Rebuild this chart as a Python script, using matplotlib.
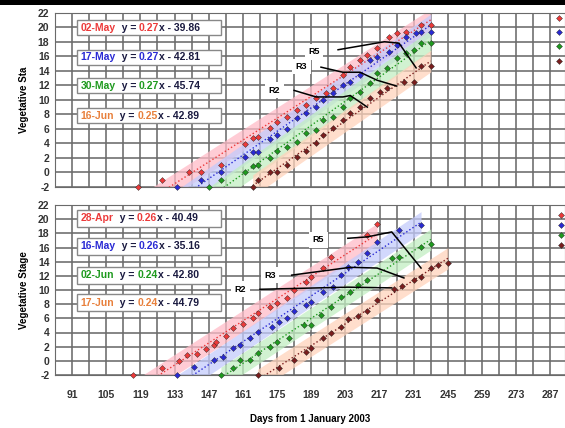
import numpy as np
import matplotlib
matplotlib.use("Agg")
import matplotlib.pyplot as plt
import matplotlib.patches as patches

plt.rcParams['font.family'] = ['Liberation Sans', 'DejaVu Sans']

# ---- data (day of year, vegetative stage) ----
top_red_day = [118, 128, 139, 144, 152, 162, 165, 167, 172, 175, 179, 183, 187, 191, 195, 198, 202, 205, 209, 212, 216, 221, 224, 228, 234, 238]
top_red_val = [-2, -1, 0, 0, 1, 3.9, 4.7, 4.9, 6.1, 6.9, 7.6, 8.6, 9.3, 10.2, 11, 11.7, 13.4, 14.5, 15.5, 16.2, 17.1, 18.7, 19.2, 19.4, 20.3, 20.3]
top_blue_day = [134, 144, 152, 162, 165, 167, 172, 175, 179, 183, 187, 191, 194, 198, 202, 205, 209, 213, 216, 221, 224, 228, 232, 234, 238]
top_blue_val = [-2, -1, 0, 2.1, 2.8, 2.8, 4.6, 5.2, 6, 7.5, 8.2, 9, 10, 10.9, 12, 12.4, 13.4, 15.5, 15.9, 16.6, 17.6, 18.7, 19.2, 19.3, 19.3]
top_green_day = [147, 152, 162, 165, 167, 172, 175, 179, 183, 187, 191, 194, 198, 202, 205, 209, 213, 216, 220, 224, 228, 231, 234, 238]
top_green_val = [-2, -1, 0, 0.9, 1, 2, 3, 3.5, 4.2, 5.4, 5.8, 7.2, 7.6, 9, 10.2, 11.1, 12.3, 13.7, 14.4, 15.7, 16.4, 16.9, 17.8, 17.8]
top_brown_day = [165, 167, 172, 175, 179, 183, 187, 191, 194, 198, 202, 205, 209, 213, 217, 220, 227, 231, 234, 238]
top_brown_val = [-2, -1, 0, 0, 1, 2.1, 3, 4, 5.1, 6.1, 7.2, 8.2, 9, 10.2, 11.1, 11.7, 12.5, 12.5, 14.6, 14.6]

bot_red_day = [116, 128, 135, 138, 142, 146, 149, 150, 154, 157, 161, 165, 167, 172, 175, 179, 182, 187, 189, 194, 197, 212, 216]
bot_red_val = [-2, -1, 0, 0.8, 1, 1.7, 2.2, 2.7, 3.5, 4.6, 5.2, 6, 6.7, 7.6, 8.2, 8.9, 10, 11.1, 11.8, 13.1, 14.7, 17.7, 19.3]
bot_blue_day = [134, 141, 149, 153, 157, 160, 164, 167, 173, 176, 179, 182, 187, 189, 194, 198, 201, 204, 208, 212, 216, 225, 234]
bot_blue_val = [-2, -0.9, 0.1, 0.5, 1.8, 2.2, 3.2, 4.1, 4.8, 5.5, 6, 7, 7.9, 8.3, 9.7, 10.4, 12.1, 13.2, 14, 15.2, 16.8, 18.5, 19.2]
bot_green_day = [152, 157, 160, 164, 167, 172, 175, 180, 186, 189, 193, 197, 201, 205, 208, 212, 222, 225, 234, 238]
bot_green_val = [-2, -1, 0.1, 0.1, 1.1, 2, 2.7, 3.2, 5.1, 5.1, 6.5, 7.6, 9, 9.7, 10.7, 11.4, 14.5, 14.7, 16.1, 16.5]
bot_brown_day = [167, 176, 182, 187, 189, 194, 197, 201, 204, 208, 212, 216, 223, 226, 231, 234, 238, 241, 245]
bot_brown_val = [-2, -1, 0.1, 1.2, 1.8, 3.2, 3.9, 4.8, 5.9, 6.4, 7, 8.6, 10.2, 10.6, 11.4, 11.9, 13.1, 13.5, 13.8]

# reproductive stage connector lines
top_r5_day, top_r5_val = [200, 219, 225, 232], [16.9, 18, 17.8, 14.4]
top_r3_day, top_r3_val = [193, 202, 209, 216, 224], [14.5, 13.8, 13.8, 12.7, 11.9]
top_r2_day, top_r2_val = [182, 191, 202, 205, 212], [11.3, 10.4, 10.4, 10.6, 9]
bot_r5_day, bot_r5_val = [204, 212, 222, 234], [17.3, 17.5, 18.2, 13.1]
bot_r3_day, bot_r3_val = [181, 205, 216, 227], [12.1, 13.2, 13.1, 11.7]
bot_r2_day, bot_r2_val = [168, 204, 222], [10.1, 10.4, 10.3]

top_dates = ['02-May', '17-May', '30-May', '16-Jun']
top_slopes = ['0.27', '0.27', '0.27', '0.25']
top_icpts = ['39.86', '42.81', '45.74', '42.89']
bot_dates = ['28-Apr', '16-May', '02-Jun', '17-Jun']
bot_slopes = ['0.26', '0.26', '0.24', '0.24']
bot_icpts = ['40.49', '35.16', '42.80', '44.79']

x_labels = [91, 105, 119, 133, 147, 161, 175, 189, 203, 217, 231, 245, 259, 273, 287]

mark_colors = ['#ec3a3a', '#2a2ad4', '#1f9a1f', '#7a1e1e']
text_colors = ['#ec3a3a', '#2a2ad4', '#1f9a1f', '#e8803c']
band_colors = ['#ffbcc8', '#c4cbfc', '#c2eec2', '#ffd3bb']

W, H = 565, 428
fig = plt.figure(figsize=(W / 100, H / 100), dpi=100)
ax_top = fig.add_axes([55 / W, 1 - 187 / H, 510 / W, 174.3 / H])
ax_bot = fig.add_axes([55 / W, 1 - 375 / H, 510 / W, 170 / H])

# black strip across the very top of the picture
fig.patches.append(patches.Rectangle((0, 1 - 5 / H), 1, 5 / H, transform=fig.transFigure,
                                     facecolor='black', edgecolor='none'))


def setup(ax, ylabel, show_x):
    ax.set_xlim(84, 293)
    ax.set_ylim(-2, 22)
    ticks = list(range(84, 294, 7))
    ax.set_xticks(ticks)
    if show_x:
        ax.set_xticklabels([str(t) if t in x_labels else '' for t in ticks],
                           fontsize=7.5, fontweight='bold', color='#333333')
    else:
        ax.set_xticklabels([])
    ax.set_yticks(range(-2, 23, 2))
    ax.set_yticklabels([str(v) for v in range(-2, 23, 2)], fontsize=7.5,
                       fontweight='bold', color='#333333')
    ax.tick_params(axis='y', length=0, pad=4)
    ax.tick_params(axis='x', length=0, pad=11)
    ax.grid(True, color='#6a6a6a', lw=1.15)
    ax.set_axisbelow(True)
    for s in ax.spines.values():
        s.set_color('#6a6a6a')
    ax.set_ylabel(ylabel, fontsize=7, fontweight='bold', labelpad=6)


def draw_series(ax, days_list, vals_list):
    handles = []
    for days, vals, mc, bc in zip(days_list, vals_list, mark_colors, band_colors):
        d = np.array(days, dtype=float)
        v = np.array(vals, dtype=float)
        k, b = np.polyfit(d, v, 1)
        xs = np.linspace(d.min(), d.max(), 50)
        ax.fill_between(xs, k * xs + b - 1.5, k * xs + b + 1.5, color=bc, alpha=0.75, lw=0, zorder=1.5)
        ax.plot(xs, k * xs + b, ls=':', color=mc, lw=1, zorder=2)
        h, = ax.plot(d, v, ls='none', marker='D', ms=3, color=mc, mec='#222222', mew=0.3,
                     clip_on=False, zorder=3)
        handles.append(h)
    return handles


def draw_stage(ax, name, days, vals, lx, ly):
    ax.plot(days, vals, color='black', lw=1.1, zorder=4)
    ax.text(lx, ly, name, fontsize=6.5, fontweight='bold', ha='center', va='center', zorder=5,
            bbox=dict(facecolor='white', edgecolor='none', pad=2.5))


def eq_boxes(ax, centers, dates, slopes, icpts, hfrac):
    for yc, dt, sl, ic, tc in zip(centers, dates, slopes, icpts, text_colors):
        ax.add_patch(patches.Rectangle((0.043, yc - hfrac / 2), 0.282, hfrac, transform=ax.transAxes,
                                       facecolor='white', edgecolor='#888888', lw=1, zorder=6))
        kw = dict(fontsize=7.5, fontweight='bold', zorder=7)
        t = ax.text(0.05, yc, dt, color=tc, transform=ax.transAxes, va='center', **kw)
        t = ax.annotate('  y = ', xy=(1, 0), xycoords=t, va='bottom', color='#1a1a40', **kw)
        t = ax.annotate(sl, xy=(1, 0), xycoords=t, va='bottom', color=tc, **kw)
        ax.annotate('x - ' + ic, xy=(1, 0), xycoords=t, va='bottom', color='#1a1a40', **kw)


setup(ax_top, 'Vegetative Sta', False)
setup(ax_bot, 'Vegetative Stage', True)
fig.text(310 / W, 1 - 419 / H, 'Days from 1 January 2003', fontsize=7, fontweight='bold',
         ha='center', va='center')

h_top = draw_series(ax_top, [top_red_day, top_blue_day, top_green_day, top_brown_day],
                    [top_red_val, top_blue_val, top_green_val, top_brown_val])
h_bot = draw_series(ax_bot, [bot_red_day, bot_blue_day, bot_green_day, bot_brown_day],
                    [bot_red_val, bot_blue_val, bot_green_val, bot_brown_val])

draw_stage(ax_top, 'R5', top_r5_day, top_r5_val, 190, 16.6)
draw_stage(ax_top, 'R3', top_r3_day, top_r3_val, 185, 14.6)
draw_stage(ax_top, 'R2', top_r2_day, top_r2_val, 174, 11.3)
draw_stage(ax_bot, 'R5', bot_r5_day, bot_r5_val, 192, 17.1)
draw_stage(ax_bot, 'R3', bot_r3_day, bot_r3_val, 172, 12.1)
draw_stage(ax_bot, 'R2', bot_r2_day, bot_r2_val, 160, 10.1)

eq_boxes(ax_top, [0.915, 0.743, 0.582, 0.41], top_dates, top_slopes, top_icpts, 0.088)
eq_boxes(ax_bot, [0.921, 0.756, 0.588, 0.426], bot_dates, bot_slopes, bot_icpts, 0.1)

# legend markers at the right edge (their labels fall outside the cropped picture)
fig.legend(h_top, ['', '', '', ''], loc='upper left', bbox_to_anchor=(555 / W, 1 - 13 / H), frameon=False,
           fontsize=7, handlelength=0.8, borderpad=0, borderaxespad=0, labelspacing=0.45, handletextpad=0)
fig.legend(h_bot, ['', '', '', ''], loc='upper left', bbox_to_anchor=(558 / W, 1 - 212 / H), frameon=False,
           fontsize=6, handlelength=0.8, borderpad=0, borderaxespad=0, labelspacing=0.25, handletextpad=0)

fig.savefig('out.png', dpi=100)
